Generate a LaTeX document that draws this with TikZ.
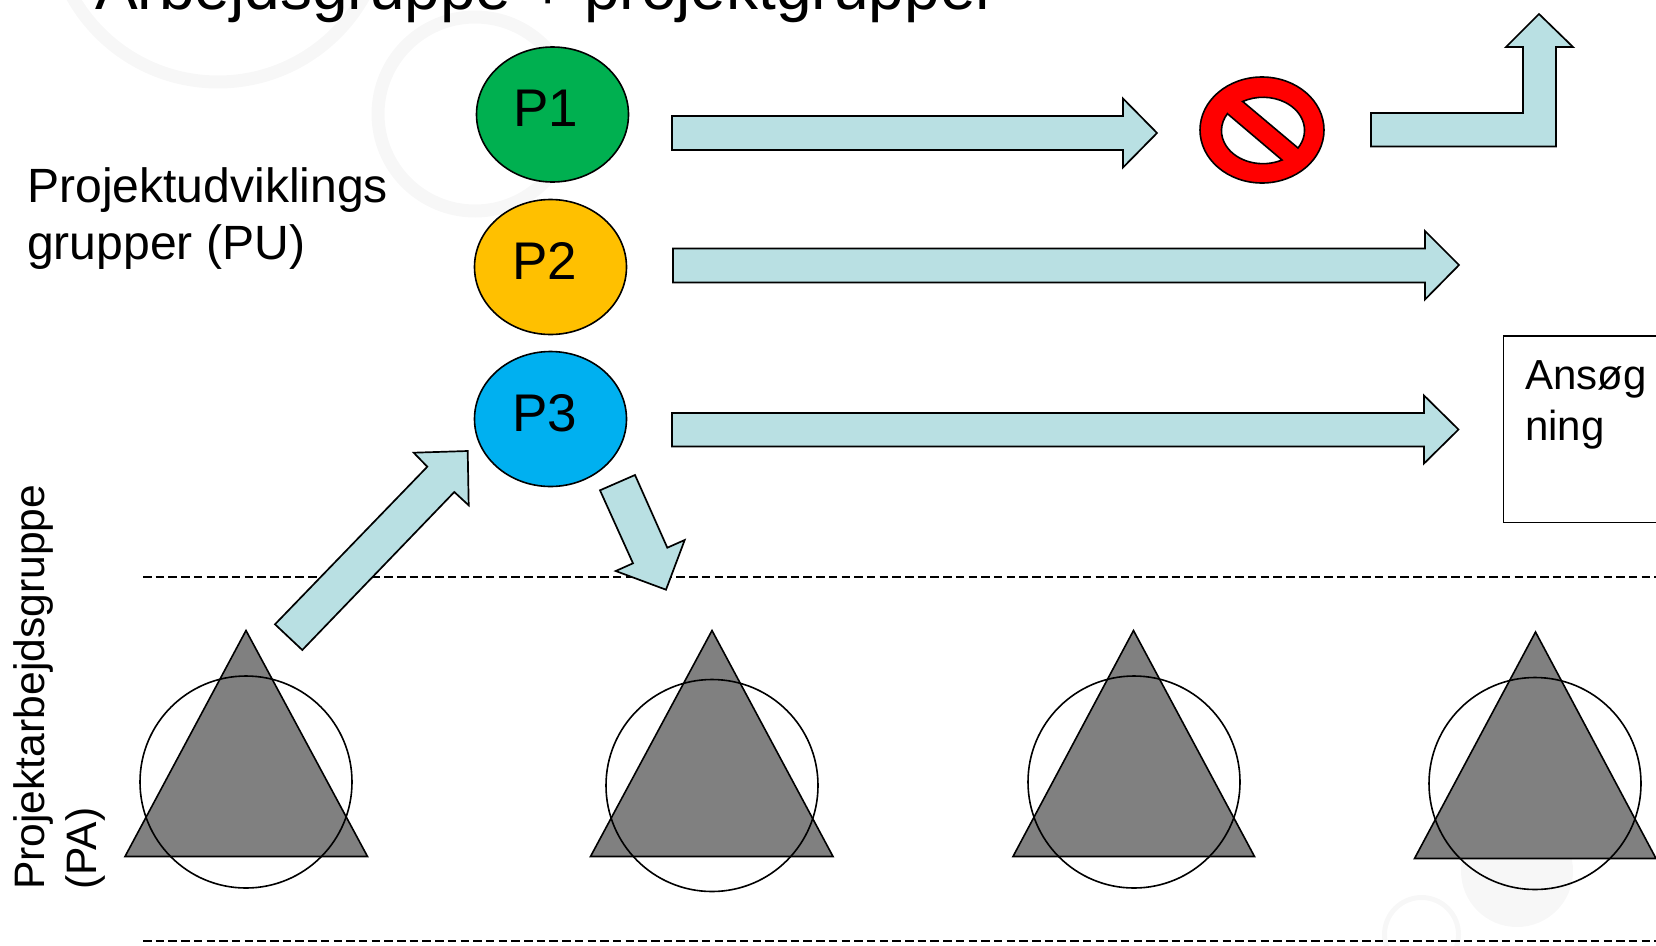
\documentclass[tikz,border=0pt]{standalone}
\usepackage{fontspec}
\setmainfont{Liberation Sans}
\usetikzlibrary{shapes.geometric}
\definecolor{arrowblue}{HTML}{B9E0E3}
\definecolor{pgreen}{HTML}{00B050}
\definecolor{pyellow}{HTML}{FFC000}
\definecolor{pblue}{HTML}{00B0F0}
\definecolor{tgrey}{HTML}{808080}
\definecolor{wmark}{HTML}{F7F7F7}
\tikzset{
  blockarrow/.style={draw=black,line width=1.7pt,fill=arrowblue,line join=miter},
  pnode/.style={draw=black,line width=1.6pt,ellipse,inner sep=0pt,minimum width=152pt,minimum height=135pt},
  ptext/.style={inner sep=0pt,anchor=base west,font=\fontsize{53}{53}\selectfont},
  tri/.style={draw=black,line width=1.6pt,fill=tgrey},
  ringnode/.style={draw=black,line width=1.6pt,circle,minimum size=212pt,inner sep=0pt},
  sep/.style={draw=black,line width=1.5pt,dash pattern=on 8.5pt off 4.2pt},
}
\begin{document}
\begin{tikzpicture}[x=1pt,y=-1pt]
\useasboundingbox (0,0) rectangle (1656,945);
\begin{scope}
\clip (0,0) rectangle (1656,945);
% faint background
\draw[wmark,line width=13pt] (218,-85) circle[radius=167pt];
\draw[wmark,line width=13pt] (475,114) circle[radius=97pt];
\fill[wmark] (1517,871) circle[radius=56pt];
\draw[wmark,line width=5pt] (1421.5,934.5) circle[radius=37pt];
% title
\node[inner sep=0pt,anchor=base west,font=\fontsize{64}{65}\selectfont] (title) at (95,9) {Arbejdsgruppe + projektgrupper};
% dashed lines
\draw[sep] (143,577) -- (1656,577);
\draw[sep] (143,941) -- (1656,941);
% triangles and circles
\draw[tri] (246,630.5) -- (367.5,856.5) -- (125,856.5) -- cycle;
\draw[tri] (712,630.5) -- (833,856.5) -- (590.5,856.5) -- cycle;
\draw[tri] (1133.5,630.5) -- (1254.5,856.5) -- (1013,856.5) -- cycle;
\draw[tri] (1535.5,632) -- (1656,858.5) -- (1414.5,858.5) -- cycle;
\node[ringnode] (c1) at (246,782) {};
\node[ringnode] (c2) at (712,785.5) {};
\node[ringnode] (c3) at (1134,782) {};
\node[ringnode] (c4) at (1535,783.5) {};
% P nodes
\node[pnode,fill=pgreen] (p1) at (552.5,114.5) {};
\node[pnode,fill=pyellow] (p2) at (550.5,267) {};
\node[pnode,fill=pblue] (p3) at (550.5,419) {};
\node[ptext] (p1t) at (513,126) {P1};
\node[ptext] (p2t) at (512,279) {P2};
\node[ptext] (p3t) at (512,431) {P3};
% block arrows
\draw[blockarrow] (672,116) -- (1123,116) -- (1123,98.5) -- (1157,133) -- (1123,167.5) -- (1123,150) -- (672,150) -- cycle;
\draw[blockarrow] (673,248.5) -- (1425,248.5) -- (1425,231) -- (1459,265) -- (1425,299.5) -- (1425,282.5) -- (673,282.5) -- cycle;
\draw[blockarrow] (672,413) -- (1424,413) -- (1424,395.5) -- (1458.5,429.5) -- (1424,463.5) -- (1424,446.5) -- (672,446.5) -- cycle;
\draw[blockarrow] (1371,113) -- (1523,113) -- (1523,47) -- (1506,47) -- (1539,14) -- (1573,47) -- (1556,47) -- (1556,146.5) -- (1371,146.5) -- cycle;
\draw[blockarrow] (275,624.3) -- (427.3,466.7) -- (413.7,452.7) -- (467.7,451) -- (468.7,505.3) -- (454.3,492) -- (302.3,650) -- cycle;
\draw[blockarrow] (600,490.3) -- (635,475) -- (667.3,547.7) -- (684.7,540) -- (666,589.7) -- (615.7,571) -- (633,563.3) -- cycle;
% prohibition sign
\draw[draw=black,line width=1.6pt,fill=red] (1262,130) ellipse[x radius=62pt,y radius=53pt];
\draw[draw=black,line width=1.6pt,fill=white] (1298,148) arc[start angle=-32.5,end angle=119.3,x radius=41.5pt,y radius=33pt] -- cycle;
\draw[draw=black,line width=1.6pt,fill=white] (1282,160) arc[start angle=-62.7,end angle=-211,x radius=41.5pt,y radius=33pt] -- cycle;
% box
\draw[draw=black,line width=1.6pt] (1680,336) -- (1503.5,336) -- (1503.5,522.5) -- (1680,522.5);
\node[inner sep=0pt,anchor=base west,font=\fontsize{42}{42}\selectfont] (ans1) at (1525,389) {Ansøg};
\node[inner sep=0pt,anchor=base west,font=\fontsize{42}{42}\selectfont] (ans2) at (1525,440) {ning};
% labels
\node[inner sep=0pt,anchor=base west,font=\fontsize{48.1}{48.1}\selectfont] (pu1) at (27,202) {Projektudviklings};
\node[inner sep=0pt,anchor=base west,font=\fontsize{48.1}{48.1}\selectfont] (pu2) at (27,259) {grupper (PU)};
\node[inner sep=0pt,rotate=90,anchor=base west,font=\fontsize{42.6}{42.6}\selectfont] (pa1) at (44,890) {Projektarbejdsgruppe};
\node[inner sep=0pt,rotate=90,anchor=base west,font=\fontsize{42.6}{42.6}\selectfont] (pa2) at (96,890) {(PA)};
\end{scope}
\end{tikzpicture}
\end{document}
